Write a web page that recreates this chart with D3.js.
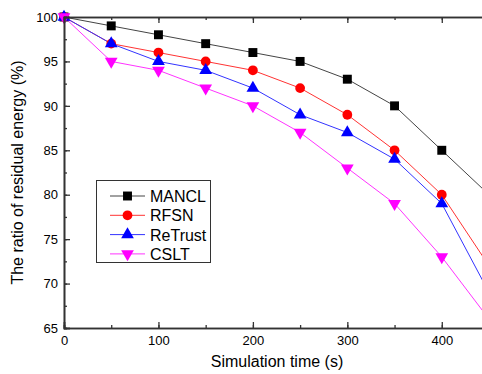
<!DOCTYPE html>
<html>
<head>
<meta charset="utf-8">
<script src="https://cdn.jsdelivr.net/npm/d3@7"></script>
<style>
  body { margin: 0; background: #fff; }
  svg { display: block; font-family: "Liberation Sans", Arial, sans-serif; }
</style>
</head>
<body>
<svg id="chart" width="482" height="374"></svg>
<script>
// data
var times = [0, 50, 100, 150, 200, 250, 300, 350, 400, 450];
var mancl = [100, 99, 98, 97, 96, 95, 93, 90, 85, 80];
var rfsn = [100, 97, 96, 95, 94, 92, 89, 85, 80, 72];
var retrust = [100, 97, 95, 94, 92, 89, 87, 84, 79, 69];
var cslt = [100, 95, 94, 92, 90, 87, 83, 79, 73, 66];
var seriesNames = ["MANCL", "RFSN", "ReTrust", "CSLT"];
var xTicks = [0, 100, 200, 300, 400];
var yTicks = [65, 70, 75, 80, 85, 90, 95, 100];

var svg = d3.select("#chart"),
    margin = {top: 17, left: 64},
    plotW = 425, plotH = 311;

var x = d3.scaleLinear().domain([0, 450]).range([margin.left, margin.left + plotW]);
var y = d3.scaleLinear().domain([65, 100]).range([margin.top + plotH, margin.top]);

var series = [
  {name: seriesNames[0], values: mancl, color: "#000", line: "#444", shape: d3.symbolSquare, size: 80},
  {name: seriesNames[1], values: rfsn, color: "#ff0000", line: "#ff3333", shape: d3.symbolCircle, size: 75},
  {name: seriesNames[2], values: retrust, color: "#0000ff", line: "#3333ff", shape: d3.symbolTriangle, size: 70, rot: 0},
  {name: seriesNames[3], values: cslt, color: "#ff00ff", line: "#ff33ff", shape: d3.symbolTriangle, size: 70, rot: 180}
];

svg.append("clipPath").attr("id", "clip")
  .append("rect").attr("x", 0).attr("y", 0).attr("width", 482).attr("height", margin.top + plotH + 6);

var plot = svg.append("g").attr("clip-path", "url(#clip)");

var line = d3.line()
  .x(function(d, i) { return x(times[i]); })
  .y(function(d) { return y(d); });

series.forEach(function(s) {
  plot.append("path")
    .attr("d", line(s.values))
    .attr("fill", "none")
    .attr("stroke", s.line)
    .attr("stroke-width", 1);
});

series.forEach(function(s) {
  plot.selectAll(null).data(s.values).enter().append("path")
    .attr("d", d3.symbol().type(s.shape).size(s.size))
    .attr("transform", function(d, i) {
      return "translate(" + x(times[i]) + "," + y(d) + ")" + (s.rot ? " rotate(" + s.rot + ")" : "");
    })
    .attr("fill", s.color);
});

// axes, ticks pointing inward
var axisColor = "#333";
var minorX = d3.range(0, 451, 50), minorY = d3.range(65, 100.1, 2.5);

var axBottom = svg.append("g").attr("transform", "translate(0," + (margin.top + plotH) + ")")
  .call(d3.axisBottom(x).tickValues(xTicks).tickSize(-6).tickPadding(8).tickFormat(d3.format("d")));
var axBottomMinor = svg.append("g").attr("transform", "translate(0," + (margin.top + plotH) + ")")
  .call(d3.axisBottom(x).tickValues(minorX).tickSize(-3).tickFormat(""));

var axTop = svg.append("g").attr("transform", "translate(0," + margin.top + ")")
  .call(d3.axisTop(x).tickValues(xTicks).tickSize(-6).tickFormat(""));
var axTopMinor = svg.append("g").attr("transform", "translate(0," + margin.top + ")")
  .call(d3.axisTop(x).tickValues(minorX).tickSize(-3).tickFormat(""));

var axLeft = svg.append("g").attr("transform", "translate(" + margin.left + ",0)")
  .call(d3.axisLeft(y).tickValues(yTicks).tickSize(-6).tickPadding(6));
var axLeftMinor = svg.append("g").attr("transform", "translate(" + margin.left + ",0)")
  .call(d3.axisLeft(y).tickValues(minorY).tickSize(-3).tickFormat(""));

[axBottom, axBottomMinor, axTop, axTopMinor, axLeft, axLeftMinor].forEach(function(g) {
  g.select(".domain").attr("stroke", axisColor).attr("stroke-width", 1.6);
  g.selectAll(".tick line").attr("stroke", axisColor).attr("stroke-width", 1.3);
  g.selectAll(".tick text").attr("fill", "#000").style("font-size", "13px")
    .style("font-family", "'Liberation Sans', Arial, sans-serif");
});

// axis titles
svg.append("text")
  .attr("x", 277).attr("y", 367)
  .attr("text-anchor", "middle")
  .style("font-size", "16px")
  .text("Simulation time (s)");

svg.append("text")
  .attr("transform", "translate(23," + (margin.top + plotH / 2) + ") rotate(-90)")
  .attr("text-anchor", "middle")
  .style("font-size", "16px")
  .text("The ratio of residual energy (%)");

// legend
var legend = svg.append("g").attr("transform", "translate(96.5,180.5)");
legend.append("rect")
  .attr("width", 114).attr("height", 82)
  .attr("fill", "#fff").attr("stroke", "#333").attr("stroke-width", 1);

series.forEach(function(s, i) {
  var ly = 15.5 + i * 19.3;
  legend.append("line")
    .attr("x1", 13.5).attr("x2", 48.5).attr("y1", ly).attr("y2", ly)
    .attr("stroke", s.line).attr("stroke-width", 1);
  legend.append("path")
    .attr("d", d3.symbol().type(s.shape).size(s.size))
    .attr("transform", "translate(31," + ly + ")" + (s.rot ? " rotate(" + s.rot + ")" : ""))
    .attr("fill", s.color);
  legend.append("text")
    .attr("x", 53.5).attr("y", ly + 6)
    .style("font-size", "16px")
    .text(s.name);
});
</script>
</body>
</html>
